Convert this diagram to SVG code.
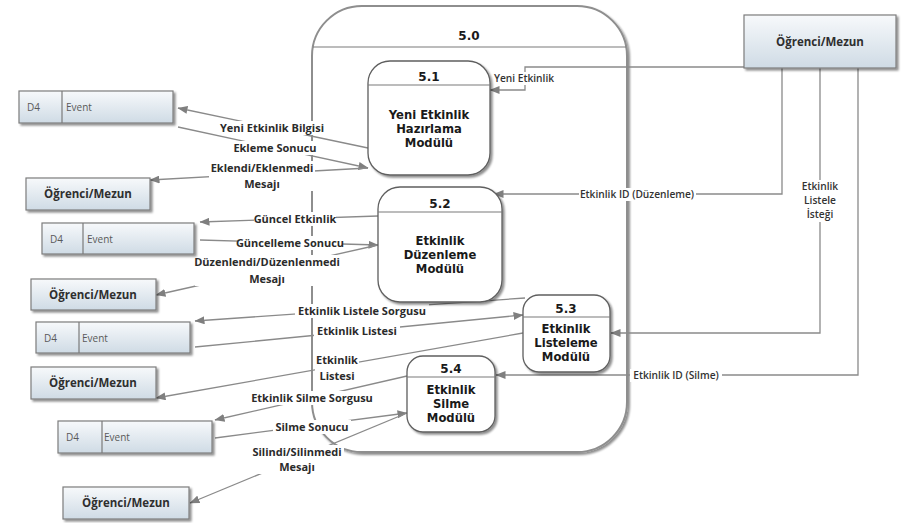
<svg xmlns="http://www.w3.org/2000/svg" width="908" height="523" viewBox="0 0 908 523">
  <defs>
    <linearGradient id="entityFill" x1="0" y1="0" x2="0" y2="1">
      <stop offset="0" stop-color="#f7f9fb"/>
      <stop offset="1" stop-color="#cfdbe5"/>
    </linearGradient>
    <filter id="dropShadow" x="-10%" y="-10%" width="125%" height="130%">
      <feGaussianBlur in="SourceAlpha" stdDeviation="1.2"/>
      <feOffset dx="1.5" dy="2" result="off"/>
      <feComponentTransfer><feFuncA type="linear" slope="0.45"/></feComponentTransfer>
      <feMerge><feMergeNode/><feMergeNode in="SourceGraphic"/></feMerge>
    </filter>
    <marker id="arrow" viewBox="0 0 10 8" refX="9.5" refY="4" markerWidth="10" markerHeight="8" markerUnits="userSpaceOnUse" orient="auto">
      <path d="M0,0 L10,4 L0,8 z" fill="#7f7f7f"/>
    </marker>
  </defs>
  <style>
    .container { fill: #ffffff; stroke: #8e8e8e; stroke-width: 2; }
    .proc { fill: #ffffff; stroke: #5f5f5f; stroke-width: 1.3; }
    .divider { stroke: #7a7a7a; stroke-width: 1.2; }
    .entity { fill: url(#entityFill); stroke: #7d7d7d; stroke-width: 1.2; }
    .flow { fill: none; stroke: #8a8a8a; stroke-width: 1.3; }
    .flow-arrow { marker-end: url(#arrow); }
    .bg { fill: #ffffff; }
    .lbl { font-family: "Open Sans", "Liberation Sans", sans-serif; font-weight: 700; font-size: 11px; fill: #2b2b2b; text-anchor: middle; }
    .lbl-s { font-family: "Open Sans", "Liberation Sans", sans-serif; font-weight: 600; font-size: 10.2px; fill: #333333; text-anchor: middle; }
    .ptitle { font-family: "DejaVu Sans", Verdana, sans-serif; font-weight: bold; font-size: 11.6px; fill: #1a1a1a; text-anchor: middle; }
    .pnum { font-family: "DejaVu Sans", Verdana, sans-serif; font-weight: bold; font-size: 12px; fill: #1a1a1a; text-anchor: middle; }
    .ename { font-family: "Open Sans", "Liberation Sans", sans-serif; font-weight: 700; font-size: 11.5px; fill: #2f2f2f; text-anchor: middle; }
    .store { font-family: "Open Sans", "Liberation Sans", sans-serif; font-size: 10px; fill: #5a5a5a; }
  </style>

  <rect width="908" height="523" fill="#ffffff"/>

  <!-- parent process 5.0 -->
  <g id="p5_0">
    <rect class="container" x="312" y="6" width="315" height="446" rx="50" ry="50" filter="url(#dropShadow)"/>
    <line class="divider" x1="313" y1="47" x2="626" y2="47"/>
    <text class="pnum" x="469" y="40">5.0</text>
  </g>

  <!-- data flows -->
  <g id="connectors">
    <path class="flow flow-arrow" d="M368,148 L178,108"/>
    <path class="flow flow-arrow" d="M178,127 L368,168"/>
    <path class="flow flow-arrow" d="M368,168 L150,180"/>
    <path class="flow flow-arrow" d="M378,216 L200,222"/>
    <path class="flow flow-arrow" d="M200,240 L378,245"/>
    <path class="flow flow-arrow" d="M378,245 L156,295"/>
    <path class="flow flow-arrow" d="M525,298 L195,321"/>
    <path class="flow flow-arrow" d="M195,347 L523,315"/>
    <path class="flow flow-arrow" d="M523,333 L156,398"/>
    <path class="flow flow-arrow" d="M407,376 L215,420"/>
    <path class="flow flow-arrow" d="M215,438 L407,413"/>
    <path class="flow flow-arrow" d="M407,413 L190,503"/>
    <path class="flow flow-arrow" d="M744,67 L525,67 L525,90 L490,90"/>
    <path class="flow flow-arrow" d="M782,68 L782,194 L494,194"/>
    <path class="flow flow-arrow" d="M820,68 L820,333 L611,333"/>
    <path class="flow flow-arrow" d="M858,68 L858,375 L496,375"/>

    <!-- label backgrounds -->
    <rect class="bg" x="218" y="121" width="109" height="14"/>
    <rect class="bg" x="235" y="141" width="80" height="14"/>
    <rect class="bg" x="209" y="161" width="106" height="30"/>
    <rect class="bg" x="254" y="212" width="82" height="14"/>
    <rect class="bg" x="238" y="236" width="104" height="14"/>
    <rect class="bg" x="195" y="255" width="144" height="31"/>
    <rect class="bg" x="295" y="304" width="134" height="14"/>
    <rect class="bg" x="314" y="324" width="86" height="14"/>
    <rect class="bg" x="315" y="353" width="44" height="30"/>
    <rect class="bg" x="248" y="391" width="128" height="14"/>
    <rect class="bg" x="273" y="420" width="78" height="14"/>
    <rect class="bg" x="250" y="445" width="94" height="29"/>
    <rect class="bg" x="493" y="72" width="62" height="13"/>
    <rect class="bg" x="579" y="188" width="117" height="13"/>
    <rect class="bg" x="800" y="180" width="40" height="42"/>
    <rect class="bg" x="630" y="369" width="92" height="13"/>

    <!-- label texts -->
    <text class="lbl" x="272" y="132">Yeni Etkinlik Bilgisi</text>
    <text class="lbl" x="275" y="152">Ekleme Sonucu</text>
    <text class="lbl" x="262" y="172">Eklendi/Eklenmedi</text>
    <text class="lbl" x="262" y="188">Mesajı</text>
    <text class="lbl" x="295" y="223">Güncel Etkinlik</text>
    <text class="lbl" x="290" y="247">Güncelleme Sonucu</text>
    <text class="lbl" x="267" y="266">Düzenlendi/Düzenlenmedi</text>
    <text class="lbl" x="267" y="283">Mesajı</text>
    <text class="lbl" x="362" y="315">Etkinlik Listele Sorgusu</text>
    <text class="lbl" x="357" y="335">Etkinlik Listesi</text>
    <text class="lbl" x="337" y="364">Etkinlik</text>
    <text class="lbl" x="337" y="380">Listesi</text>
    <text class="lbl" x="312" y="402">Etkinlik Silme Sorgusu</text>
    <text class="lbl" x="312" y="431">Silme Sonucu</text>
    <text class="lbl" x="297" y="456">Silindi/Silinmedi</text>
    <text class="lbl" x="297" y="471">Mesajı</text>
    <text class="lbl-s" x="524" y="82">Yeni Etkinlik</text>
    <text class="lbl-s" x="637" y="198">Etkinlik ID (Düzenleme)</text>
    <text class="lbl-s" x="820" y="190">Etkinlik</text>
    <text class="lbl-s" x="820" y="204">Listele</text>
    <text class="lbl-s" x="820" y="218">İsteği</text>
    <text class="lbl-s" x="676" y="379">Etkinlik ID (Silme)</text>
  </g>

  <!-- sub-processes -->
  <g id="p5_1">
    <rect class="proc" x="368" y="61" width="122" height="114" rx="22" ry="22" filter="url(#dropShadow)"/>
    <line class="divider" x1="368" y1="85" x2="490" y2="85"/>
    <text class="pnum" x="429" y="81">5.1</text>
    <text class="ptitle" x="429" y="119">Yeni Etkinlik</text>
    <text class="ptitle" x="429" y="133">Hazırlama</text>
    <text class="ptitle" x="429" y="147">Modülü</text>
  </g>
  <g id="p5_2">
    <rect class="proc" x="378" y="187" width="124" height="115" rx="22" ry="22" filter="url(#dropShadow)"/>
    <line class="divider" x1="378" y1="212" x2="502" y2="212"/>
    <text class="pnum" x="440" y="208">5.2</text>
    <text class="ptitle" x="440" y="245">Etkinlik</text>
    <text class="ptitle" x="440" y="259">Düzenleme</text>
    <text class="ptitle" x="440" y="273">Modülü</text>
  </g>
  <g id="p5_3">
    <rect class="proc" x="523" y="295" width="87" height="77" rx="16" ry="16" filter="url(#dropShadow)"/>
    <line class="divider" x1="523" y1="317" x2="610" y2="317"/>
    <text class="pnum" x="566" y="313">5.3</text>
    <text class="ptitle" x="566" y="333">Etkinlik</text>
    <text class="ptitle" x="566" y="347">Listeleme</text>
    <text class="ptitle" x="566" y="361">Modülü</text>
  </g>
  <g id="p5_4">
    <rect class="proc" x="407" y="356" width="88" height="76" rx="16" ry="16" filter="url(#dropShadow)"/>
    <line class="divider" x1="407" y1="377" x2="495" y2="377"/>
    <text class="pnum" x="451" y="373">5.4</text>
    <text class="ptitle" x="451" y="394">Etkinlik</text>
    <text class="ptitle" x="451" y="408">Silme</text>
    <text class="ptitle" x="451" y="422">Modülü</text>
  </g>

  <!-- external entities -->
  <g id="user_top">
    <rect class="entity" x="744" y="15" width="152" height="53" filter="url(#dropShadow)"/>
    <text class="ename" x="820" y="46">Öğrenci/Mezun</text>
  </g>
  <g id="user_1">
    <rect class="entity" x="26" y="178" width="124" height="32" filter="url(#dropShadow)"/>
    <text class="ename" x="88" y="198">Öğrenci/Mezun</text>
  </g>
  <g id="user_2">
    <rect class="entity" x="31" y="279" width="125" height="31" filter="url(#dropShadow)"/>
    <text class="ename" x="93" y="299">Öğrenci/Mezun</text>
  </g>
  <g id="user_3">
    <rect class="entity" x="31" y="367" width="125" height="32" filter="url(#dropShadow)"/>
    <text class="ename" x="93" y="387">Öğrenci/Mezun</text>
  </g>
  <g id="user_4">
    <rect class="entity" x="63" y="487" width="126" height="32" filter="url(#dropShadow)"/>
    <text class="ename" x="126" y="507">Öğrenci/Mezun</text>
  </g>

  <!-- data stores -->
  <g id="store_1">
    <rect class="entity" x="19" y="91" width="154" height="32" filter="url(#dropShadow)"/>
    <line class="divider" x1="62" y1="91" x2="62" y2="123"/>
    <text class="store" x="27" y="111">D4</text>
    <text class="store" x="66" y="111">Event</text>
  </g>
  <g id="store_2">
    <rect class="entity" x="42" y="223" width="152" height="31" filter="url(#dropShadow)"/>
    <line class="divider" x1="83" y1="223" x2="83" y2="254"/>
    <text class="store" x="50" y="243">D4</text>
    <text class="store" x="87" y="243">Event</text>
  </g>
  <g id="store_3">
    <rect class="entity" x="36" y="322" width="154" height="31" filter="url(#dropShadow)"/>
    <line class="divider" x1="79" y1="322" x2="79" y2="353"/>
    <text class="store" x="44" y="342">D4</text>
    <text class="store" x="82" y="342">Event</text>
  </g>
  <g id="store_4">
    <rect class="entity" x="58" y="421" width="154" height="32" filter="url(#dropShadow)"/>
    <line class="divider" x1="102" y1="421" x2="102" y2="453"/>
    <text class="store" x="66" y="441">D4</text>
    <text class="store" x="104" y="441">Event</text>
  </g>
</svg>
